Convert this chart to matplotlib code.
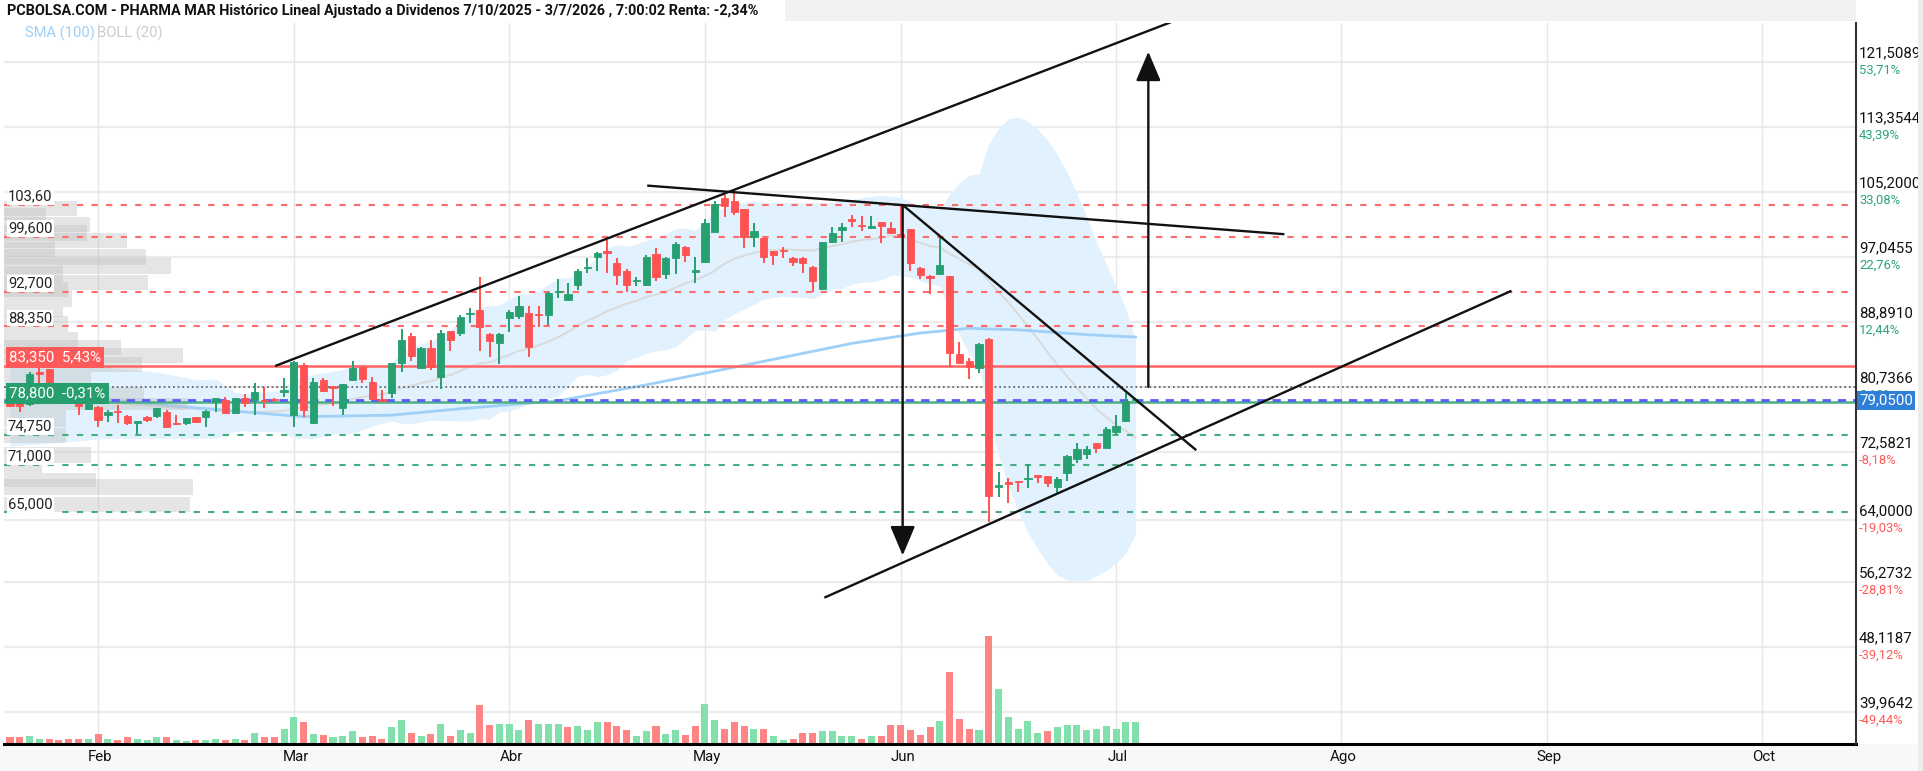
import numpy as np
import pandas as pd
import matplotlib
matplotlib.use("Agg")
import matplotlib.pyplot as plt
from matplotlib.patches import Rectangle
from matplotlib.transforms import blended_transform_factory

plt.rcParams['font.family'] = ['Roboto', 'DejaVu Sans']

# ---------------------------------------------------------------- data
title = ("PCBOLSA.COM - PHARMA MAR Histórico Lineal Ajustado a Dividenos "
         "7/10/2025 - 3/7/2026 , 7:00:02 Renta: -2,34%")

opens = [78.8, 78.68, 78.6, 82.55, 82.95, 79.5, 78.9, 78.68, 77.93, 78.26,
         77.22, 77.7, 77.09, 76.26, 76.93, 77.09, 77.64, 76.09, 76.17, 76.93,
         77.01, 78.89, 79.1, 77.51, 79.31, 79.10, 79.1, 79.15, 80.15, 77.22,
         83.49, 76.17, 81.61, 80.70, 78.05, 81.61, 83.20, 81.40, 79.1, 79.94,
         83.78, 87.13, 83.07, 85.58, 82.03, 87.80, 87.55, 89.9, 90.39, 87.34,
         86.21, 89.35, 89.64, 89.97, 89.85, 89.77, 92.65, 91.64, 93.53, 95.65,
         97.00, 97.62, 96.33, 95.32, 94.05, 93.53, 97.42, 94.91, 96.96, 98.34,
         95.2, 96.45, 100.22, 104.40, 104.11, 103.02, 99.59, 99.38, 97.83, 97.83,
         96.87, 96.9, 95.74, 92.98, 98.96, 100.43, 101.65, 100.97, 100.64, 101.47,
         100.64, 99.88, 100.51, 95.62, 94.65, 94.91, 94.70, 84.87, 84.03, 83.07,
         86.71, 68.22, 68.65, 68.89, 69.18, 69.60, 69.60, 68.14, 69.98, 71.65,
         72.32, 73.66, 73.12, 75.12, 76.50, 79.05]
highs = [79.1, 78.8, 82.6, 83.07, 83.0, 79.8, 79.5, 78.9, 78.8, 78.4,
         77.8, 78.47, 77.2, 76.35, 77.05, 78.1, 77.8, 77.22, 76.9, 77.0,
         77.9, 79.4, 79.52, 79.4, 79.85, 81.27, 80.69, 79.31, 81.82, 84.0,
         83.78, 81.82, 81.82, 80.77, 81.11, 83.99, 83.28, 82.03, 80.35, 83.78,
         87.97, 87.55, 85.79, 86.63, 87.88, 87.80, 89.77, 90.60, 94.57, 87.46,
         87.46, 90.39, 92.15, 90.89, 90.89, 92.69, 94.24, 93.73, 95.49, 96.96,
         97.71, 99.17, 96.87, 95.49, 94.57, 97.29, 98.13, 97.00, 98.96, 98.42,
         97.08, 101.76, 104.11, 104.82, 105.11, 103.02, 101.26, 99.38, 97.83, 98.34,
         97.00, 97.00, 95.91, 98.96, 100.84, 101.26, 102.31, 102.18, 102.18, 101.47,
         101.47, 103.4, 100.51, 95.74, 94.78, 99.51, 94.70, 86.42, 84.32, 86.21,
         86.92, 70.10, 69.35, 68.89, 71.07, 69.60, 69.60, 69.48, 72.15, 73.74,
         73.32, 73.66, 75.75, 77.21, 79.93, 79.05]
lows = [78.2, 77.64, 78.4, 80.77, 79.2, 78.7, 78.6, 77.22, 77.8, 75.75,
        76.38, 76.17, 76.0, 74.83, 76.4, 76.9, 75.6, 76.0, 76.0, 76.2,
        75.75, 77.64, 77.4, 77.4, 78.26, 77.22, 78.05, 78.89, 79.52, 75.75,
        77.01, 76.05, 80.06, 78.35, 77.22, 81.53, 81.19, 79.10, 78.89, 79.31,
        82.66, 84.04, 82.95, 82.86, 80.44, 85.29, 87.13, 88.72, 85.29, 84.54,
        83.58, 87.67, 89.22, 84.54, 88.30, 88.51, 91.86, 91.56, 92.90, 95.07,
        95.32, 94.99, 93.53, 92.69, 93.40, 93.40, 94.07, 94.32, 94.86, 96.45,
        93.73, 96.45, 100.22, 102.10, 102.31, 98.13, 98.34, 96.24, 96.04, 96.87,
        95.91, 94.99, 92.69, 92.90, 98.84, 98.96, 100.84, 100.34, 100.51, 98.75,
        99.92, 99.51, 95.32, 94.24, 92.40, 94.78, 83.28, 83.78, 81.69, 82.44,
        63.83, 66.97, 66.13, 67.60, 68.01, 68.64, 68.22, 67.47, 68.98, 71.15,
        71.65, 72.40, 73.03, 74.70, 76.38, 79.05]
closes = [78.4, 78.35, 82.36, 82.40, 79.5, 79.0, 79.2, 78.35, 78.6, 76.59,
          77.64, 77.6, 76.17, 76.32, 76.59, 78.05, 75.67, 76.05, 76.80, 76.38,
          77.76, 79.31, 77.51, 79.31, 78.68, 80.06, 79.0, 79.1, 80.23, 83.91,
          77.85, 81.32, 80.23, 80.65, 81.07, 83.16, 81.73, 79.23, 79.02, 83.70,
          86.63, 84.62, 85.58, 83.28, 87.55, 86.63, 89.47, 89.97, 88.22, 86.54,
          87.34, 90.18, 90.94, 85.71, 89.77, 92.48, 92.69, 92.40, 95.32, 95.70,
          97.50, 97.58, 94.78, 93.53, 94.07, 97.00, 94.57, 96.87, 98.67, 97.29,
          95.3, 101.26, 103.69, 103.44, 102.73, 99.51, 100.34, 97.00, 97.29, 97.79,
          96.37, 96.3, 94.07, 98.96, 100.01, 100.84, 101.60, 100.93, 100.97, 100.93,
          100.09, 99.51, 96.24, 94.78, 94.36, 96.04, 84.95, 83.78, 83.20, 86.12,
          67.05, 68.31, 68.60, 68.77, 69.31, 69.48, 68.72, 69.14, 72.07, 72.91,
          72.91, 73.03, 75.42, 75.83, 79.01, 79.05]

# volume (relative units, 1 unit = 10k shares)
volumes = [6.7, 6.7, 7.7, 5.3, 5.3, 4.0, 5.3, 5.3, 5.3, 10.3,
           5.3, 4.0, 6.7, 5.3, 4.0, 6.7, 6.7, 4.0, 2.7, 4.0,
           4.0, 5.3, 4.0, 5.3, 4.0, 11.3, 6.7, 6.7, 15.3, 26.7,
           21.7, 10.3, 9.0, 6.7, 7.7, 12.7, 6.7, 7.7, 5.3, 16.7,
           24.0, 11.3, 7.7, 10.3, 20.3, 7.7, 14.0, 11.3, 39.0, 19.0,
           20.3, 20.3, 14.0, 24.0, 20.3, 20.3, 20.3, 16.7, 18.0, 14.0,
           21.7, 21.7, 18.0, 14.0, 7.7, 12.7, 18.0, 10.3, 14.0, 9.0,
           18.0, 40.3, 24.0, 15.3, 21.7, 18.0, 15.3, 15.3, 7.7, 4.0,
           5.3, 11.3, 11.3, 12.7, 12.7, 7.7, 7.7, 5.3, 7.7, 7.7,
           19.0, 19.0, 14.0, 9.0, 16.7, 22.7, 72.0, 25.3, 15.3, 14.0,
           108.0, 55.3, 26.7, 15.3, 22.7, 11.3, 12.7, 16.7, 19.0, 19.0,
           14.0, 15.3, 17.7, 15.3, 21.7, 21.7]
vol_dir = ("rrggrrrrgr" "grrgggrggr" "ggrgrgrrgg" "rgrgggrrrg" "grgrgrggrr"
           "gggrgggrgg" "grrrggrggr" "rggrrrgrgg" "rrrggggrgr" "rrrrrgrrrg"
           "rgggggrggg" "gggggg")

month_labels = ["Feb", "Mar", "Abr", "May", "Jun", "Jul", "Ago", "Sep", "Oct"]
month_index = [9, 29, 51, 71, 91, 113, 136, 157, 179]

# SMA(100) (bar index, price)
sma_idx = [0, 10, 21, 30, 39, 46, 56, 65, 76, 86, 93, 98, 103, 110, 115]
sma_val = [79.5, 79.1, 77.9, 77.0, 77.2, 78.0, 79.0, 81.0, 83.7, 86.2,
           87.5, 88.1, 87.9, 87.3, 87.0]

# Bollinger(20) for the first bars (history before the visible window)
bb_early_idx = [0, 5, 10, 15]
bb_early_up = [83.3, 83.5, 83.2, 82.6]
bb_early_mid = [78.6, 78.7, 78.8, 78.3]
bb_early_lo = [73.3, 73.8, 74.3, 74.3]

axis_vals = [121.5089, 113.3544, 105.2000, 97.0455, 88.8910, 80.7366,
             72.5821, 64.0000, 56.2732, 48.1187, 39.9642]
axis_labels = ["121,5089", "113,3544", "105,2000", "97,0455", "88,8910",
               "80,7366", "72,5821", "64,0000", "56,2732", "48,1187", "39,9642"]
axis_pct = ["53,71%", "43,39%", "33,08%", "22,76%", "12,44%", "2,13%",
            "-8,18%", "-19,03%", "-28,81%", "-39,12%", "-49,44%"]
last_price = 79.05
last_label = "79,0500"

res_levels = [103.60, 99.60, 92.70, 88.35]
res_labels = ["103,60", "99,600", "92,700", "88,350"]
sup_levels = [74.75, 71.00, 65.00]
sup_labels = ["74,750", "71,000", "65,000"]
red_level, red_texts = 83.35, ("83,350", "5,43%")
green_level, green_texts = 78.80, ("78,800", "-0,31%")
dotted_level = 80.7366

trend_lines = [((27.1, 83.37), (118.6, 126.5)),
               ((65.1, 106.0), (130.2, 99.9)),
               ((91.2, 103.57), (121.2, 72.8)),
               ((83.2, 54.3), (153.4, 92.8))]
arrows = [((91.2, 103.57), (91.2, 59.6)),
          ((116.3, 80.74), (116.3, 122.8))]

# volume-at-price profile (price top, price bottom, relative volume)
profile_top = [104.1, 103.2, 102.1, 101.06, 100.05, 98.96, 98.05, 96.92, 95.91, 94.78,
               93.94, 92.9, 90.8, 89.64, 87.67, 86.63, 85.62, 84.53, 82.65, 80.77,
               79.35, 77.84, 75.59, 73.24, 71.2, 69.98, 69.19, 66.97]
profile_bot = [102.2, 101.7, 100.2, 99.09, 98.17, 97.0, 96.04, 94.91, 93.94, 92.9,
               92.06, 90.8, 89.55, 87.67, 85.79, 84.75, 83.74, 82.65, 80.77, 78.85,
               77.84, 75.75, 73.7, 71.16, 69.94, 68.15, 67.18, 65.09]
profile_len = [72.7, 41.7, 86, 82.7, 122.7, 51, 141.7, 167, 59, 144,
               64, 68, 59, 64, 74, 117, 179, 138, 87, 140,
               183, 62, 62, 87, 38, 92, 189, 186]

# ---------------------------------------------------------------- style / layout
W, H = 1923, 771
PX_L, PX_R, PX_T, PX_B = 4, 1856, 23, 744
XLIM = (-0.613, 188.6)
YLIM = (35.94, 126.40)
GREEN = "#26a070"
RED = "#ff5252"
VGREEN = "#82e0ac"
VRED = "#ff8585"

fig = plt.figure(figsize=(W / 100, H / 100), dpi=100)
fig.patch.set_facecolor("white")
ax = fig.add_axes([PX_L / W, (H - PX_B) / H, (PX_R - PX_L) / W, (PX_B - PX_T) / H])
ax.set_xlim(*XLIM)
ax.set_ylim(*YLIM)
ax.set_facecolor("white")
for s in ax.spines.values():
    s.set_visible(False)
ax.set_xticks([])
ax.set_yticks([])

px_per_x = (PX_R - PX_L) / (XLIM[1] - XLIM[0])
price_per_px = (YLIM[1] - YLIM[0]) / (PX_B - PX_T)

# grid
for v in axis_vals:
    ax.axhline(v, color="#ececec", lw=1.6, zorder=0.2)
for m in month_index:
    ax.axvline(m, color="#e6e6e6", lw=1.0, zorder=0.2)

n = len(closes)
idx = np.arange(n)

cs = pd.Series(closes)
mid = cs.rolling(20).mean()
sd = cs.rolling(20).std(ddof=0)
bb_x = list(bb_early_idx) + list(range(19, n))
bb_up = list(bb_early_up) + list((mid + 2 * sd).iloc[19:])
bb_md = list(bb_early_mid) + list(mid.iloc[19:])
bb_lo = list(bb_early_lo) + list((mid - 2 * sd).iloc[19:])
ax.fill_between(bb_x, bb_lo, bb_up, color="#e1f1fd", lw=0, zorder=0.5)
ax.plot(bb_x, bb_md, color="#dadada", lw=1.4, zorder=0.7)
ax.plot(sma_idx, sma_val, color="#9fd0f7", lw=2.0, zorder=0.8)

# volume profile
for t, b, ln in zip(profile_top, profile_bot, profile_len):
    ax.add_patch(Rectangle((XLIM[0], b), ln / px_per_x, t - b,
                           facecolor="#bdbdbd", alpha=0.38, lw=0, zorder=1.0))

# horizontal levels
for lv in res_levels:
    ax.axhline(lv, color="#ff6a6a", lw=1.5, ls=(0, (3, 4)), zorder=2)
for lv in sup_levels:
    ax.axhline(lv, color="#45ad82", lw=1.5, ls=(0, (3, 4)), zorder=2)
ax.axhline(red_level, color="#ff6363", lw=1.8, zorder=2)
ax.axhline(dotted_level, color="#666666", lw=1.3, ls=(0, (1, 1.6)), zorder=2)
ax.axhline(green_level, color="#4caf84", lw=1.8, zorder=2)
ax.axhline(last_price, color="#5a5aff", lw=2.0, ls=(0, (3, 2.5)), zorder=2.1)

# volume bars
vol_scale = price_per_px  # 1 unit -> 1 px tall
vcols = [VGREEN if d == "g" else VRED for d in vol_dir]
ax.bar(np.arange(len(volumes)), np.array(volumes) * vol_scale, bottom=YLIM[0],
       width=0.72, color=vcols, lw=0, zorder=2.5)

# candles
for i in range(n):
    o, h, l, c = opens[i], highs[i], lows[i], closes[i]
    col = GREEN if c >= o else RED
    ax.vlines(i, l, h, color=col, lw=1.4, zorder=3)
    bot = min(o, c)
    ht = max(abs(c - o), 0.16)
    ax.add_patch(Rectangle((i - 0.37, bot), 0.74, ht, facecolor=col,
                           edgecolor=col, lw=0.6, zorder=3.1))

# trend lines and arrows
for (x0, y0), (x1, y1) in trend_lines:
    ax.plot([x0, x1], [y0, y1], color="#111111", lw=1.7, zorder=4,
            solid_capstyle="butt", clip_on=True)
for (x0, y0), (x1, y1) in arrows:
    ax.annotate("", xy=(x1, y1), xytext=(x0, y0),
                arrowprops=dict(arrowstyle="-|>,head_length=1.3,head_width=0.55",
                                mutation_scale=14, lw=1.7, color="#111111",
                                shrinkA=0, shrinkB=0), zorder=4)

# left labels
bt = blended_transform_factory(ax.transAxes, ax.transData)
for lv, lb in list(zip(res_levels, res_labels)) + list(zip(sup_levels, sup_labels)):
    ax.annotate(lb, xy=(0, lv), xycoords=bt, xytext=(4, 8), textcoords="offset pixels",
                ha="left", va="center", fontsize=10.6, color="#222222", zorder=6,
                bbox=dict(boxstyle="square,pad=0.08", fc="white", ec="none"))
ax.annotate(red_texts[0] + "  " + red_texts[1], xy=(0, red_level), xycoords=bt,
            xytext=(5, 8.5), textcoords="offset pixels", ha="left", va="center",
            fontsize=10.8, color="white", zorder=6,
            bbox=dict(boxstyle="square,pad=0.22", fc="#ff5a5a", ec="none"))
ax.annotate(green_texts[0] + "  " + green_texts[1], xy=(0, green_level), xycoords=bt,
            xytext=(5, 9), textcoords="offset pixels", ha="left", va="center",
            fontsize=10.8, color="white", zorder=6,
            bbox=dict(boxstyle="square,pad=0.22", fc="#279e6e", ec="none"))

# right axis labels
for v, lb, pc in zip(axis_vals, axis_labels, axis_pct):
    ax.annotate(lb, xy=(1, v), xycoords=bt, xytext=(3, 9), textcoords="offset pixels",
                ha="left", va="center", fontsize=10.8, color="#111111",
                annotation_clip=False)
    ax.annotate(pc, xy=(1, v), xycoords=bt, xytext=(3, -8), textcoords="offset pixels",
                ha="left", va="center", fontsize=9.4,
                color=("#ff5a5a" if pc.startswith("-") else "#2ba477"),
                annotation_clip=False)
ax.annotate(last_label, xy=(1, last_price), xycoords=bt, xytext=(3, 0),
            textcoords="offset pixels", ha="left", va="center", fontsize=10.8,
            color="white", annotation_clip=False, zorder=7,
            bbox=dict(boxstyle="square,pad=0.16", fc="#2f7fd8", ec="none"))

# frame pieces
fig.patches.append(Rectangle((0, 0), 1918, H - PX_B, transform=None,
                             facecolor="#f8f8f8", edgecolor="none", zorder=-1))
fig.patches.append(Rectangle((785, H - 21), PX_R - 785, 21, transform=None,
                             facecolor="#f2f2f2", edgecolor="none", zorder=-1))
fig.patches.append(Rectangle((1918, 0), 5, H, transform=None,
                             facecolor="#ececec", edgecolor="none", zorder=10))
fig.lines.append(plt.Line2D([PX_L, PX_R], [H - PX_B, H - PX_B], transform=None,
                            color="black", lw=2.2))
fig.lines.append(plt.Line2D([PX_R, PX_R], [H - PX_B, H - PX_T], transform=None,
                            color="#333333", lw=1.5))

# month labels
for lb, m in zip(month_labels, month_index):
    ax.annotate(lb, xy=(m, 0), xycoords=blended_transform_factory(ax.transData, ax.transAxes),
                xytext=(2, -13), textcoords="offset pixels", ha="center", va="center",
                fontsize=10.8, color="#111111", annotation_clip=False)

# title and indicator legend
fig.text(7 / W, 1 - 11 / H, title, ha="left", va="center", fontsize=10.4,
         fontweight="bold", color="#111111")
fig.text(25 / W, 1 - 33 / H, "SMA (100)", ha="left", va="center", fontsize=10.6,
         color="#9fd0f7")
fig.text(97 / W, 1 - 33 / H, "BOLL (20)", ha="left", va="center", fontsize=10.6,
         color="#cccccc")

fig.savefig("out.png", dpi=100)
